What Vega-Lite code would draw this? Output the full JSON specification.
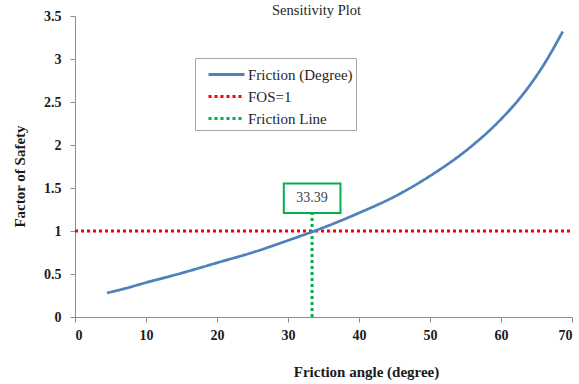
{
  "$schema": "https://vega.github.io/schema/vega-lite/v6.json",
  "width": 497,
  "height": 301,
  "autosize": {"type": "none"},
  "padding": {"left": 75, "top": 16, "right": 7, "bottom": 67},
  "background": "white",
  "config": {
    "view": {"stroke": null},
    "font": "Liberation Serif",
    "axis": {"grid": false, "domainColor": "#8c8c8c", "tickColor": "#8c8c8c", "labelFont": "Liberation Serif", "titleFont": "Liberation Serif", "labelFontWeight": "bold", "titleFontWeight": "bold", "labelColor": "#1a1a1a", "titleColor": "#1a1a1a", "labelFontSize": 14, "titleFontSize": 15, "tickSize": 5}
  },
  "title": {"text": "Sensitivity Plot", "frame": "group", "anchor": "middle", "baseline": "alphabetic", "offset": 4, "dy": 24, "dx": -7, "fontSize": 14.5, "fontWeight": "normal", "font": "Liberation Serif", "color": "#262626"},
  "datasets": {
    "lines": [
      {"series": "Friction (Degree)", "x": 4.5, "y": 0.28},
      {"series": "Friction (Degree)", "x": 7, "y": 0.33},
      {"series": "Friction (Degree)", "x": 10, "y": 0.4},
      {"series": "Friction (Degree)", "x": 15, "y": 0.51},
      {"series": "Friction (Degree)", "x": 20, "y": 0.63},
      {"series": "Friction (Degree)", "x": 25, "y": 0.75},
      {"series": "Friction (Degree)", "x": 30, "y": 0.89},
      {"series": "Friction (Degree)", "x": 33.39, "y": 0.99},
      {"series": "Friction (Degree)", "x": 35, "y": 1.04},
      {"series": "Friction (Degree)", "x": 40, "y": 1.21},
      {"series": "Friction (Degree)", "x": 45, "y": 1.4},
      {"series": "Friction (Degree)", "x": 50, "y": 1.64},
      {"series": "Friction (Degree)", "x": 55, "y": 1.93},
      {"series": "Friction (Degree)", "x": 60, "y": 2.3},
      {"series": "Friction (Degree)", "x": 63, "y": 2.58},
      {"series": "Friction (Degree)", "x": 66, "y": 2.93},
      {"series": "Friction (Degree)", "x": 68.7, "y": 3.32},
      {"series": "FOS=1", "x": 0, "y": 1},
      {"series": "FOS=1", "x": 70, "y": 1},
      {"series": "Friction  Line", "x": 33.39, "y": 0},
      {"series": "Friction  Line", "x": 33.39, "y": 1.21}
    ],
    "box": [
      {"x": 29.41, "x2": 37.39, "y": 1.21, "y2": 1.553, "xm": 33.39, "ym": 1.382, "label": "33.39"}
    ]
  },
  "layer": [
    {
      "data": {"name": "lines"},
      "transform": [{"filter": "datum.series === 'FOS=1'"}],
      "mark": {"type": "line", "strokeWidth": 3, "clip": false},
      "encoding": {
        "x": {"field": "x", "type": "quantitative", "scale": {"domain": [0, 70], "nice": false}, "axis": {"values": [0, 10, 20, 30, 40, 50, 60, 70], "title": "Friction angle (degree)", "labelPadding": 6, "titleX": 291, "titleY": 59, "titleAlign": "center", "titleBaseline": "alphabetic"}},
        "y": {"field": "y", "type": "quantitative", "scale": {"domain": [0, 3.5], "nice": false}, "axis": {"values": [0, 0.5, 1, 1.5, 2, 2.5, 3, 3.5], "format": ".1~f", "title": "Factor of Safety", "labelPadding": 9, "titleX": -56, "titleY": 160, "titleAngle": 270, "titleAlign": "center", "titleBaseline": "middle"}},
        "color": {"field": "series", "type": "nominal", "scale": {"domain": ["Friction (Degree)", "FOS=1", "Friction  Line"], "range": ["#4F81BD", "#FF0000", "#00B050"]}, "legend": {"title": null, "orient": "none", "legendX": 120, "legendY": 42, "strokeColor": "#a6a6a6", "padding": 3, "fillColor": "white", "symbolType": "M-1.5,0H1.5", "symbolSize": 576, "symbolStrokeWidth": 3, "symbolOffset": 15, "labelFont": "Liberation Serif", "labelFontSize": 15, "labelColor": "#262626", "labelOffset": 8, "rowPadding": 0, "labelLimit": 300}},
        "strokeDash": {"field": "series", "type": "nominal", "scale": {"domain": ["Friction (Degree)", "FOS=1", "Friction  Line"], "range": [[1, 0], [3, 3], [3, 3]]}, "legend": {"title": null}}
      }
    },
    {
      "data": {"name": "lines"},
      "transform": [{"filter": "datum.series === 'Friction  Line'"}],
      "mark": {"type": "line", "strokeWidth": 3},
      "encoding": {
        "x": {"field": "x", "type": "quantitative"},
        "y": {"field": "y", "type": "quantitative"},
        "color": {"field": "series", "type": "nominal"},
        "strokeDash": {"field": "series", "type": "nominal"}
      }
    },
    {
      "data": {"name": "lines"},
      "transform": [{"filter": "datum.series === 'Friction (Degree)'"}],
      "mark": {"type": "line", "strokeWidth": 2.75, "interpolate": "monotone"},
      "encoding": {
        "x": {"field": "x", "type": "quantitative"},
        "y": {"field": "y", "type": "quantitative"},
        "color": {"field": "series", "type": "nominal"},
        "strokeDash": {"field": "series", "type": "nominal"}
      }
    },
    {
      "data": {"name": "box"},
      "mark": {"type": "rect", "fill": "white", "stroke": "#00B050", "strokeWidth": 2},
      "encoding": {
        "x": {"field": "x", "type": "quantitative"},
        "x2": {"field": "x2"},
        "y": {"field": "y", "type": "quantitative"},
        "y2": {"field": "y2"}
      }
    },
    {
      "data": {"name": "box"},
      "mark": {"type": "text", "font": "Liberation Serif", "fontSize": 14, "color": "#404040", "baseline": "middle", "align": "center"},
      "encoding": {
        "x": {"field": "xm", "type": "quantitative"},
        "y": {"field": "ym", "type": "quantitative"},
        "text": {"field": "label"}
      }
    }
  ]
}
